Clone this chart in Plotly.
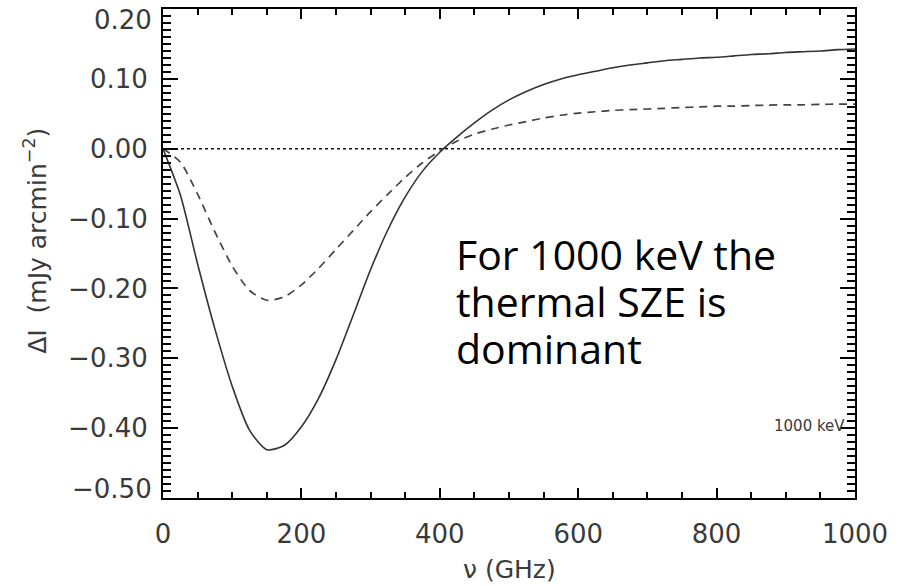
import plotly.graph_objects as go

# Frequency grid (GHz) and intensity change (mJy arcmin^-2) for the two curves
nu = [0, 25, 50, 75, 100, 125, 150, 175, 200, 225, 250, 275, 300, 325, 350, 375, 400,
      425, 450, 475, 500, 525, 550, 575, 600, 625, 650, 675, 700, 725, 750, 775, 800,
      825, 850, 875, 900, 925, 950, 975, 1000]
dI_total = [0, -0.066, -0.165, -0.258, -0.340, -0.403, -0.431, -0.425, -0.398, -0.357,
            -0.302, -0.238, -0.173, -0.116, -0.069, -0.032, -0.005, 0.017, 0.037,
            0.055, 0.070, 0.082, 0.092, 0.100, 0.106, 0.111, 0.116, 0.120, 0.123,
            0.126, 0.128, 0.130, 0.131, 0.133, 0.135, 0.136, 0.138, 0.139, 0.140,
            0.142, 0.143]
dI_half = [0, -0.019, -0.065, -0.119, -0.168, -0.203, -0.217, -0.212, -0.195, -0.171,
           -0.144, -0.117, -0.090, -0.065, -0.041, -0.020, -0.003, 0.011, 0.021, 0.028,
           0.034, 0.039, 0.044, 0.048, 0.051, 0.053, 0.055, 0.056, 0.057, 0.058, 0.059,
           0.060, 0.061, 0.061, 0.062, 0.0625, 0.063, 0.063, 0.0635, 0.064, 0.064]

x_ticks = [0, 200, 400, 600, 800, 1000]
y_ticks = [0.20, 0.10, 0.00, -0.10, -0.20, -0.30, -0.40, -0.50]

note_lines = ["For 1000 keV the", "thermal SZE is", "dominant"]
temp_label = "1000 keV"

TEXT_GRAY = "#3a3a3a"
TICK_FONT = dict(family="DejaVu Sans", size=26, color=TEXT_GRAY)


def y_label(v):
    s = f"{abs(v):.2f}"
    return ("−" + s) if v < 0 else s


# the end labels of the y axis sit just inside the frame, so they are placed separately
y_text = ["" if i in (0, len(y_ticks) - 1) else y_label(v) for i, v in enumerate(y_ticks)]

fig = go.Figure()

# zero reference line
fig.add_trace(go.Scatter(x=[0, 1000], y=[0, 0], mode="lines",
                         line=dict(color="#111111", width=1.6, dash="3px,3px"),
                         showlegend=False, hoverinfo="skip"))
fig.add_trace(go.Scatter(x=nu, y=dI_half, mode="lines",
                         line=dict(color="#444444", width=1.7, dash="8px,6px",
                                   shape="spline", smoothing=0.7),
                         showlegend=False))
fig.add_trace(go.Scatter(x=nu, y=dI_total, mode="lines",
                         line=dict(color="#333333", width=1.6,
                                   shape="spline", smoothing=0.7),
                         showlegend=False))

fig.update_xaxes(range=[0, 1000], tickvals=x_ticks, ticktext=[str(v) for v in x_ticks],
                 showline=True, linecolor="black", linewidth=2, mirror="ticks",
                 ticks="inside", ticklen=10, tickwidth=2, tickcolor="black",
                 minor=dict(dtick=50, ticks="inside", ticklen=6, tickwidth=2,
                            tickcolor="black", showgrid=False),
                 showgrid=False, zeroline=False, tickfont=TICK_FONT,
                 ticklabelstandoff=12, ticklabeloverflow="allow", automargin=False)
fig.update_yaxes(range=[-0.5002, 0.2002], tickvals=y_ticks, ticktext=y_text,
                 showline=True, linecolor="black", linewidth=2, mirror="ticks",
                 ticks="inside", ticklen=15, tickwidth=2, tickcolor="black",
                 minor=dict(dtick=0.01, tick0=0, ticks="inside", ticklen=8, tickwidth=2,
                            tickcolor="black", showgrid=False),
                 showgrid=False, zeroline=False, tickfont=TICK_FONT,
                 ticklabelstandoff=8, ticklabeloverflow="allow", automargin=False)

for v, shift in ((y_ticks[0], -11), (y_ticks[-1], 9)):
    fig.add_annotation(text=y_label(v), xref="paper", yref="y", x=0, y=v,
                       xanchor="right", yanchor="middle", xshift=-9, yshift=shift,
                       showarrow=False, font=TICK_FONT)

# axis titles
fig.add_annotation(text="ν (GHz)", xref="paper", yref="paper", x=0.5, y=-0.147,
                   xanchor="center", yanchor="middle", showarrow=False,
                   font=dict(family="DejaVu Sans", size=25, color=TEXT_GRAY))
fig.add_annotation(text="ΔI  (mJy arcmin<sup>−2</sup>)", xref="paper", yref="paper",
                   x=-0.1835, y=0.526, xanchor="center", yanchor="middle",
                   textangle=-90, showarrow=False,
                   font=dict(family="DejaVu Sans", size=25, color=TEXT_GRAY))

# temperature label
fig.add_annotation(text=temp_label, x=988, y=-0.397, xanchor="right", yanchor="middle",
                   showarrow=False,
                   font=dict(family="DejaVu Sans", size=15, color=TEXT_GRAY))

# explanatory note
for i, line in enumerate(note_lines):
    fig.add_annotation(text=line, xref="paper", yref="paper",
                       x=(454 - 163) / 692, y=(498 - (254 + 47 * i)) / 489,
                       xanchor="left", yanchor="middle", showarrow=False,
                       font=dict(family="Open Sans", size=41, color="black"))

fig.update_layout(width=904, height=586, margin=dict(l=163, r=49, t=9, b=88),
                  plot_bgcolor="white", paper_bgcolor="white")

fig.write_html("out.html")
